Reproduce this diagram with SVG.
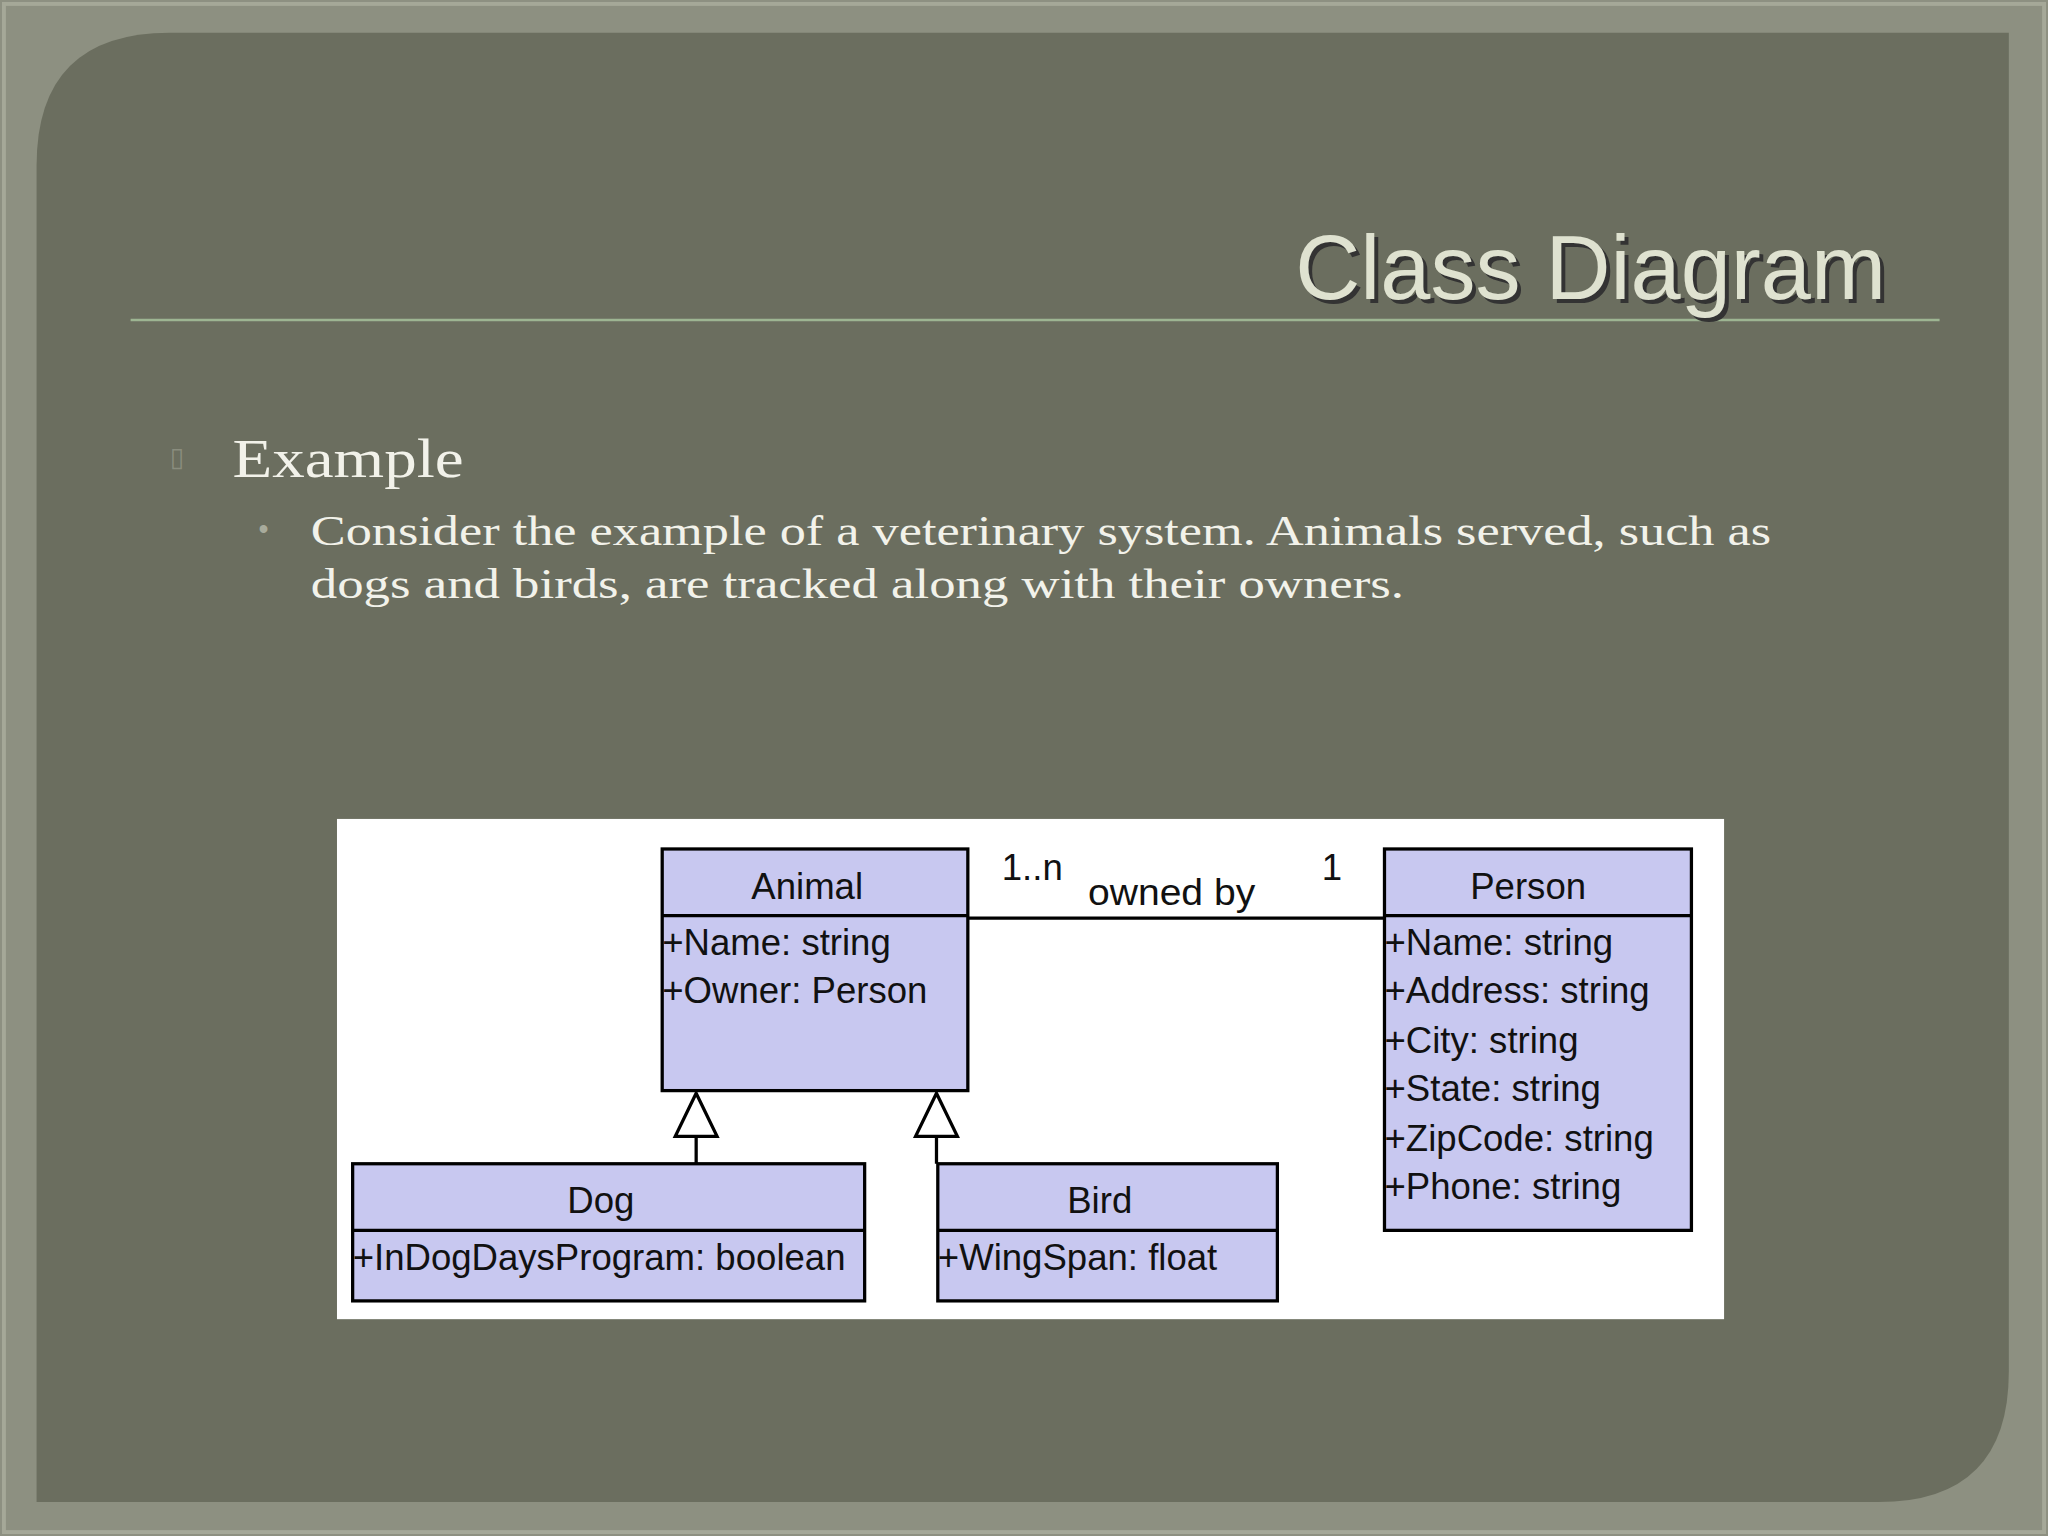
<svg xmlns="http://www.w3.org/2000/svg" width="2048" height="1536" viewBox="0 0 2048 1536">
<style>
.box{fill:#c8c8f0;stroke:#000;stroke-width:2.5}
.ln{stroke:#000;stroke-width:2.5;fill:none}
.t{font-family:"Liberation Sans",Arial,sans-serif;font-size:28px;fill:#111}
.c{text-anchor:middle}
.s{font-family:"Liberation Serif","Times New Roman",serif;fill:#f2f2ea}
</style>
<g transform="scale(1.30612)">
<rect x="0" y="0" width="1568" height="1176" fill="#8d9081"/>
<rect x="3" y="3" width="1562" height="1170" fill="none" stroke="#a5a898" stroke-width="3"/>
<path d="M130,25 H1538 V1050 Q1538,1150 1438,1150 H28 V127 Q28,25 130,25 Z" fill="#6b6e5f"/>
<line x1="100" y1="245" x2="1485" y2="245" stroke="#9db592" stroke-width="2"/>
<g id="title">
<text x="1447" y="232" text-anchor="end" font-family="Liberation Sans,Arial,sans-serif" font-size="69" fill="#333">Class Diagram</text>
<text x="1444" y="229" text-anchor="end" font-family="Liberation Sans,Arial,sans-serif" font-size="69" fill="#dfe2d0">Class Diagram</text>
</g>
<g id="bullets">
<text x="130" y="357" font-family="DejaVu Sans,sans-serif" font-size="20" fill="#8a8d7e">▯</text>
<text x="178" y="365" class="s" font-size="42" textLength="177" lengthAdjust="spacingAndGlyphs">Example</text>
<text x="198" y="413" font-family="Liberation Sans,sans-serif" font-size="22" fill="#a8ab9c">•</text>
<text x="238" y="417" class="s" font-size="32" textLength="1118" lengthAdjust="spacingAndGlyphs">Consider the example of a veterinary system. Animals served, such as</text>
<text x="238" y="458" class="s" font-size="32" textLength="837" lengthAdjust="spacingAndGlyphs">dogs and birds, are tracked along with their owners.</text>
</g>
<rect x="258" y="627" width="1062" height="383" fill="#fff"/>
<g id="connectors">
<line class="ln" x1="741" y1="703" x2="1060" y2="703"/>
<polygon class="ln" points="533,837 517,870 549,870" fill="#fff"/>
<line class="ln" x1="533" y1="870" x2="533" y2="891"/>
<polygon class="ln" points="717,837 701,870 733,870" fill="#fff"/>
<line class="ln" x1="717" y1="870" x2="717" y2="891"/>
<text class="t" x="767" y="674">1..n</text>
<text class="t" x="833" y="693" textLength="128" lengthAdjust="spacingAndGlyphs">owned by</text>
<text class="t" x="1012" y="674">1</text>
</g>
<g id="animal">
<rect class="box" x="507" y="650" width="234" height="185"/>
<line class="ln" x1="507" y1="701" x2="741" y2="701"/>
<text class="t c" x="618" y="688">Animal</text>
<text class="t" x="507" y="731">+Name: string</text>
<text class="t" x="507" y="768">+Owner: Person</text>
</g>
<g id="person">
<rect class="box" x="1060" y="650" width="235" height="292"/>
<line class="ln" x1="1060" y1="701" x2="1295" y2="701"/>
<text class="t c" x="1170" y="688">Person</text>
<text class="t" x="1060" y="731">+Name: string</text>
<text class="t" x="1060" y="768">+Address: string</text>
<text class="t" x="1060" y="806">+City: string</text>
<text class="t" x="1060" y="843">+State: string</text>
<text class="t" x="1060" y="881">+ZipCode: string</text>
<text class="t" x="1060" y="918">+Phone: string</text>
</g>
<g id="dog">
<rect class="box" x="270" y="891" width="392" height="105"/>
<line class="ln" x1="270" y1="942" x2="662" y2="942"/>
<text class="t c" x="460" y="929">Dog</text>
<text class="t" x="270" y="972">+InDogDaysProgram: boolean</text>
</g>
<g id="bird">
<rect class="box" x="718" y="891" width="260" height="105"/>
<line class="ln" x1="718" y1="942" x2="978" y2="942"/>
<text class="t c" x="842" y="929">Bird</text>
<text class="t" x="718" y="972">+WingSpan: float</text>
</g>
</g>
</svg>
